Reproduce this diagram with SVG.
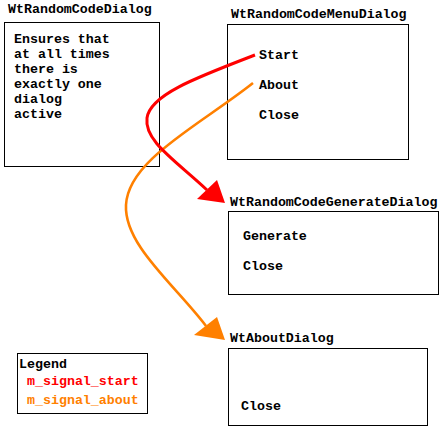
<svg xmlns="http://www.w3.org/2000/svg" width="445" height="430" viewBox="0 0 445 430">
<style>
text{font-family:"Liberation Mono","Courier New",monospace;font-weight:bold;font-size:13.3px;fill:#000}
.box{fill:#fff;stroke:#000;stroke-width:1}
.red{stroke:#ff0000;stroke-width:3;fill:none}
.orange{stroke:#ff8000;stroke-width:2.6;fill:none}
.rt{fill:#ff0000}
.ot{fill:#ff8000}
</style>
<rect width="445" height="430" fill="#fff"/>
<g id="WtRandomCodeDialog">
<text x="8" y="13">WtRandomCodeDialog</text>
<rect class="box" x="4.5" y="22.5" width="155" height="144"/>
<text x="14" y="43">Ensures that</text>
<text x="14" y="58">at all times</text>
<text x="14" y="73">there is</text>
<text x="14" y="88">exactly one</text>
<text x="14" y="103">dialog</text>
<text x="14" y="118">active</text>
</g>
<g id="WtRandomCodeMenuDialog">
<text x="231" y="18">WtRandomCodeMenuDialog</text>
<rect class="box" x="227.5" y="24.5" width="181" height="135"/>
<text x="259" y="59">Start</text>
<text x="259" y="89">About</text>
<text x="259" y="119">Close</text>
</g>
<g id="WtRandomCodeGenerateDialog">
<text x="230" y="206">WtRandomCodeGenerateDialog</text>
<rect class="box" x="228.5" y="211.5" width="210" height="83"/>
<text x="243" y="240">Generate</text>
<text x="243" y="270">Close</text>
</g>
<g id="WtAboutDialog">
<text x="230" y="342">WtAboutDialog</text>
<rect class="box" x="228.5" y="348.5" width="199" height="77"/>
<text x="241" y="410">Close</text>
</g>
<g id="Legend">
<rect class="box" x="17.5" y="353.5" width="130" height="60"/>
<text x="19" y="368">Legend</text>
<text x="27" y="385" style="fill:#ff0000">m_signal_start</text>
<text x="27" y="404" style="fill:#ff8000">m_signal_about</text>
</g>
<g id="connectors">
<path class="orange" d="M253,83 C200,125 128,160 126,205 C124,245 175,285 206,326"/>
<polygon class="ot" points="217,317 194,335 225,340"/>
<path class="red" d="M255,55 C195,78 150,95 147,118 C144,141 175,160 207,190"/>
<polygon class="rt" points="217,180 197,199 225,203"/>
</g>
</svg>
